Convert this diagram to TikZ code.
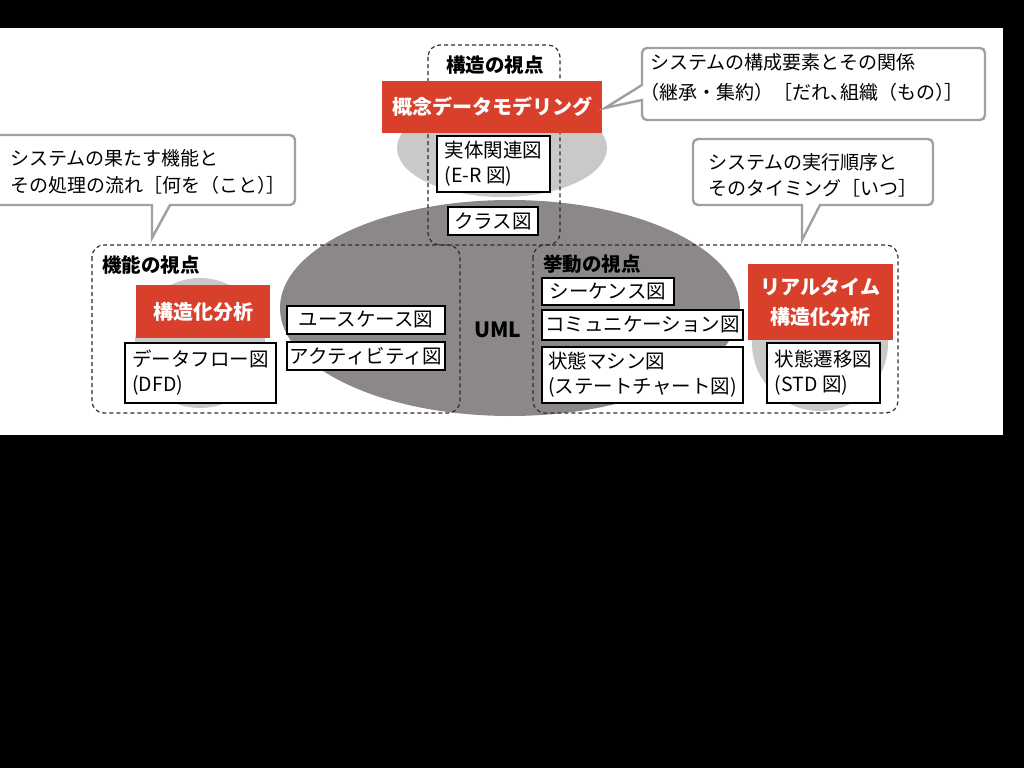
\documentclass[tikz,border=0pt]{standalone}
\usepackage{fontspec}
\setmainfont{Noto Sans CJK JP}
\setsansfont{Noto Sans CJK JP}
\definecolor{redbox}{HTML}{D9402B}
\definecolor{lightdisk}{HTML}{CBC8C8}
\definecolor{umlgray}{HTML}{8C8888}
\definecolor{callgray}{HTML}{A0A0A0}
\definecolor{dashgray}{HTML}{2E2E2E}
\newcommand{\hw}[1]{{\addfontfeature{RawFeature=+halt}#1}}

\begin{document}
\begin{tikzpicture}[x=1pt,y=-1pt,
    every node/.style={font=\fontsize{19.5}{25}\selectfont, inner sep=0pt},
    diagbox/.style={draw=black, line width=1.3pt, fill=white, align=left},
    redlabel/.style={fill=redbox, text=white, align=center,
        font=\fontsize{20}{30}\selectfont\bfseries},
    viewbox/.style={draw=dashgray, line width=1.2pt, dash pattern=on 4pt off 3pt,
        rounded corners=12pt},
    viewtitle/.style={font=\fontsize{19.5}{24}\selectfont\bfseries},
    callout/.style={draw=callgray, line width=2.4pt},
    calltext/.style={align=left, anchor=west}]
        \useasboundingbox (0,0) rectangle (1024,768);

        % Page
        \fill[black] (0,0) rectangle (1024,768);
        \fill[white] (0,28) rectangle (1003,435);

        % Discs behind the methods
        \fill[lightdisk] (502,148) ellipse [x radius=105, y radius=49];
        \fill[lightdisk] (200,343) circle [radius=65];
        \fill[lightdisk] (820,343) circle [radius=68];
        \fill[umlgray] (510,308) ellipse [x radius=230, y radius=108];

        % Views
        \draw[viewbox] (428,45) rectangle (560,245);
        \draw[viewbox] (92,245) rectangle (460,413);
        \draw[viewbox] (533,245) rectangle (898,413);
        \node[viewtitle] (structview) at (495,65) {構造の視点};
        \node[viewtitle] (funcview) at (151,265) {機能の視点};
        \node[viewtitle] (behavview) at (592,264) {挙動の視点};

        % Methods
        \node[redlabel, minimum width=220, minimum height=52] (concept) at (492,107) {概念データモデリング};
        \node[redlabel, minimum width=134, minimum height=53] (sa) at (203,311.5) {構造化分析};
        \node[redlabel, minimum width=145, minimum height=76] (rtsa) at (820.5,302) {リアルタイム\\構造化分析};

        % Diagrams
        \node[diagbox, minimum width=113, minimum height=56] (er) at (493.5,164) {実体関連図\\(E-R 図)};
        \node[diagbox, minimum width=90, minimum height=28] (class) at (493,221) {クラス図};
        \node[diagbox, minimum width=151, minimum height=60] (dfd) at (200.5,373) {データフロー図\\(DFD)};
        \node[diagbox, minimum width=158, minimum height=28] (usecase) at (366,320) {ユースケース図};
        \node[diagbox, minimum width=158, minimum height=28] (activity) at (366,356) {アクティビティ図};
        \node[diagbox, minimum width=132, minimum height=27] (seq) at (608,291.5) {シーケンス図};
        \node[diagbox, minimum width=201, minimum height=30] (comm) at (642.5,325) {コミュニケーション図};
        \node[diagbox, minimum width=201, minimum height=56] (statem) at (642.5,375) {状態マシン図\\(ステートチャート図)};
        \node[diagbox, minimum width=113, minimum height=60] (std) at (823.5,373) {状態遷移図\\(STD 図)};
        \node[font=\fontsize{21}{21}\selectfont\bfseries] (uml) at (498,330) {UML};

        % Callouts
        \draw[callout] [rounded corners=5] (-12,135) -- (295,135) -- (295,205) -- (200,205)
            [sharp corners] -- (170,205) -- (152,238) -- (152,205) -- (130,205)
            [rounded corners=5] -- (-12,205);
        \node[calltext, font=\fontsize{19}{27}\selectfont] (funcnote) at (10,171.5)
            {システムの果たす機能と\\その処理の流れ［何を（こと\hw{）}］};

        \draw[callout] [rounded corners=5] (642,70) -- (642,48) -- (985,48) -- (985,120) -- (642,120)
            -- (642,110) [sharp corners] -- (642,100) -- (605,108) -- (642,85) -- (642,70);
        \node[calltext, font=\fontsize{19}{30}\selectfont] (structnote) at (650,77)
            {システムの構成要素とその関係\\\hw{（}継承・集約）［だれ\hw{、}組織（もの\hw{）}］};

        \draw[callout] [rounded corners=5] (693,172) -- (693,139) -- (933,139) -- (933,205) -- (850,205)
            [sharp corners] -- (820,205) -- (802,240) -- (802,205) -- (780,205)
            [rounded corners=5] -- (693,205) -- (693,172);
        \node[calltext, font=\fontsize{19}{26}\selectfont] (behavnote) at (708,175)
            {システムの実行順序と\\そのタイミング［いつ］};
    \end{tikzpicture}
\end{document}
